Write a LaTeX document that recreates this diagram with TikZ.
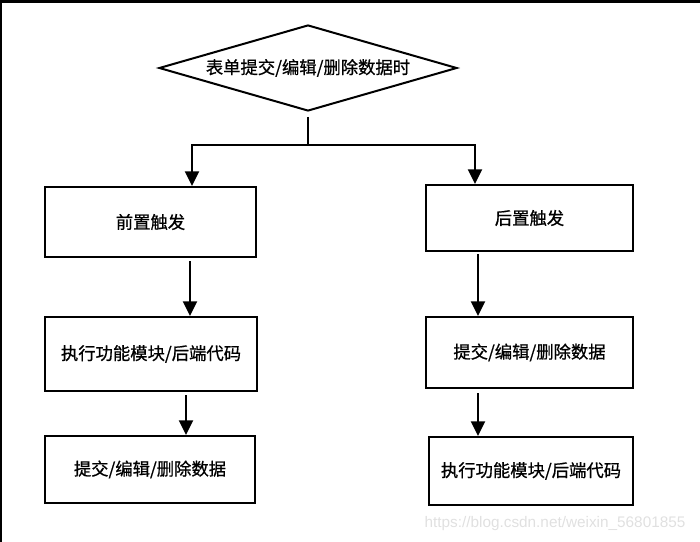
\documentclass[tikz,border=0pt]{standalone}
\usepackage{fontspec}
\setmainfont{Liberation Sans}
\newfontfamily\cjk[FakeBold=0.8]{Noto Sans CJK SC}
\usetikzlibrary{arrows.meta,calc,shapes.geometric}
\tikzset{
  box/.style={draw, line width=1.6pt, inner sep=0pt, font=\cjk\fontsize{13pt}{15pt}\selectfont},
  cond/.style={draw, diamond, line width=1.5pt, inner sep=0pt, aspect=3.47,
    minimum width=298*0.75pt, minimum height=86*0.75pt, font=\cjk\fontsize{13pt}{15pt}\selectfont},
  link/.style={line width=1.5pt},
  arr/.style={link, -{Triangle[width=10.5pt,length=11pt]}}
}

\begin{document}
\begin{tikzpicture}[x=0.75pt, y=-0.75pt]
			\useasboundingbox (0,0) rectangle (700,542);
			%%%%% START %%%%%
			
			\draw[line width=4pt] (0,0) -- (700,0);
			\draw[line width=3pt] (0,0) -- (0,542);
			
			\node[cond] (dec) at (308,68) {表单提交/编辑/删除数据时};
			
			\node[box, minimum width=211*0.75pt, minimum height=70*0.75pt] (pre) at (150.5,222) {前置触发};
			\node[box, minimum width=212*0.75pt, minimum height=74*0.75pt] (lrun) at (151,354) {执行功能模块/后端代码};
			\node[box, minimum width=210*0.75pt, minimum height=67*0.75pt] (lsave) at (150,469.5) {提交/编辑/删除数据};
			
			\node[box, minimum width=207*0.75pt, minimum height=66*0.75pt] (post) at (529.5,218) {后置触发};
			\node[box, minimum width=207*0.75pt, minimum height=71*0.75pt] (rsave) at (529.5,352.5) {提交/编辑/删除数据};
			\node[box, minimum width=204*0.75pt, minimum height=68*0.75pt] (rrun) at (531,471) {执行功能模块/后端代码};
			
			\coordinate (jn) at (308,145);
			\coordinate (lt) at (192,0);
			\coordinate (rt) at (475,0);
			\coordinate (la) at (190,0);
			\coordinate (lb) at (186,0);
			\coordinate (ra) at (478,0);
			
			\draw[link, shorten <=5*0.75pt] (dec.south) -- (jn);
			\draw[arr] (jn) -| (lt |- pre.north);
			\draw[arr] (jn) -| (rt |- post.north);
			
			\draw[arr, shorten <=3*0.75pt] (la |- pre.south) -- (la |- lrun.north);
			\draw[arr, shorten <=3*0.75pt] (lb |- lrun.south) -- (lb |- lsave.north);
			\draw[arr, shorten <=2*0.75pt] (ra |- post.south) -- (ra |- rsave.north);
			\draw[arr, shorten <=4*0.75pt] (ra |- rsave.south) -- (ra |- rrun.north);
			
			\node[text=black!12, font=\fontsize{11.5pt}{13pt}\selectfont] (wm) at (555,524) {https://blog.csdn.net/weixin\_56801855};
			
			%%%%% END %%%%%
\end{tikzpicture}
\end{document}
